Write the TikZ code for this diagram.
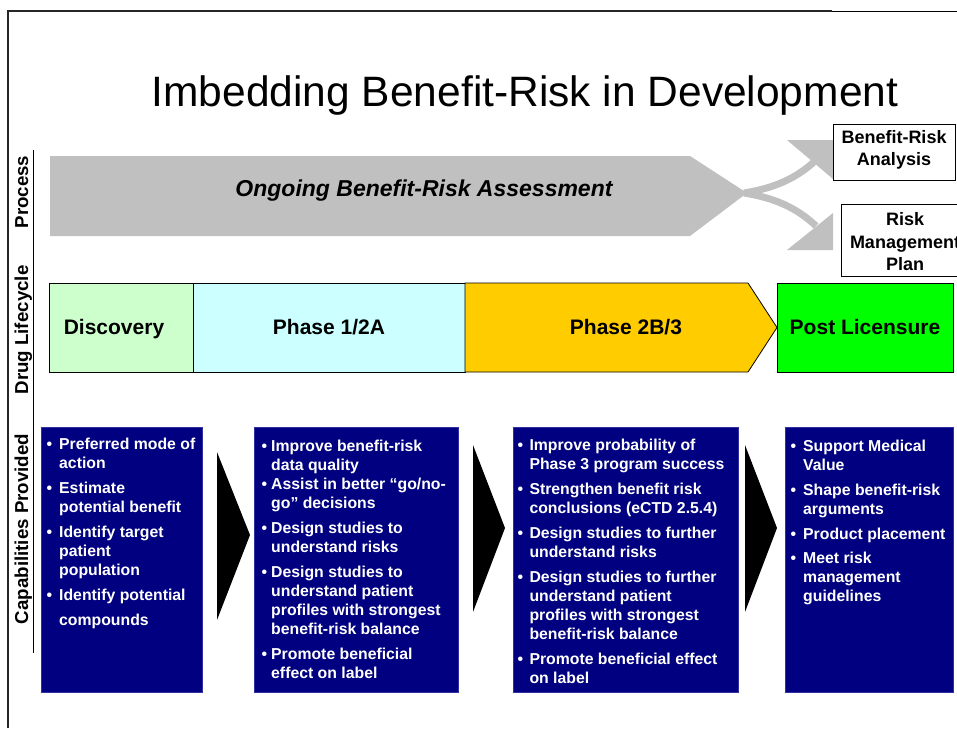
\documentclass[tikz,border=0pt]{standalone}
\usepackage{fontspec}
\setmainfont{Liberation Sans}
\definecolor{discov}{HTML}{CCFFCC}
\definecolor{phaseone}{HTML}{CCFFFF}
\definecolor{phasetwo}{HTML}{FFCC00}
\definecolor{postlic}{HTML}{00FF00}
\definecolor{capnavy}{HTML}{000080}
\definecolor{capedge}{HTML}{3030A0}
\definecolor{procgray}{HTML}{C0C0C0}
\newlength\bind
\newcommand{\bl}{\makebox[\bind][l]{•}}
\newcommand{\ind}{\hspace*{\bind}}
\begin{document}
\begin{tikzpicture}[x=1pt,y=-1pt,
  sidelab/.style={font=\fontsize{18.7}{20}\selectfont\bfseries, rotate=90, anchor=base, inner sep=0},
  phasebox/.style={draw=black, line width=0.8pt, anchor=north west, inner sep=0, minimum height=89pt},
  phasetxt/.style={font=\fontsize{21}{24}\selectfont\bfseries, anchor=base, inner sep=0},
  capbox/.style={fill=capnavy, draw=capedge, line width=0.8pt, anchor=north west, inner sep=0, minimum height=265pt},
  captxt/.style={text=white, font=\fontsize{15.8}{19}\selectfont\bfseries, align=left, anchor=north west, inner sep=0},
  chevron/.style={fill=black},
  outbox/.style={draw=black, fill=white, line width=0.8pt, anchor=north west, inner sep=0},
  outtxt/.style={font=\fontsize{18}{22.5}\selectfont\bfseries, align=center, inner sep=0},
  procband/.style={draw=procgray, line width=7pt}
]
\useasboundingbox (0,0) rectangle (957,728);
\clip (0,0) rectangle (957,728);

% frame
\draw[line width=2pt, black!85] (8,728) -- (8,11) -- (832,11);
\draw[line width=1pt] (832,11.5) -- (957,11.5);

% title
\node[font=\fontsize{42.5}{48}\selectfont, anchor=base, inner sep=0] (title) at (525,106) {Imbedding Benefit-Risk in Development};

% side labels
\draw[line width=0.8pt] (33,150) -- (33,653);
\node[sidelab] (lproc) at (28,192) {Process};
\node[sidelab] (llife) at (28,330) {Drug Lifecycle};
\node[sidelab] (lcap) at (28,529) {Capabilities Provided};

% process arrow
\fill[procgray] (50,156) -- (690,156) -- (747,193) -- (690,236) -- (50,236) -- cycle;
\coordinate (tip) at (744,193);
\coordinate (upend) at (816,160);
\coordinate (lowend) at (816,226);
\draw[procband] (tip) .. controls (775,188) and (797,178) .. (upend);
\draw[procband] (tip) .. controls (775,198) and (797,208) .. (lowend);
\fill[procgray] (787,140) -- (833,140) -- (833,179) -- cycle;
\fill[procgray] (787,250) -- (833,250) -- (833,213) -- cycle;
\node[font=\fontsize{23}{26}\selectfont\bfseries\itshape, anchor=base, inner sep=0] (ongoing) at (424,196) {Ongoing Benefit-Risk Assessment};

% outcome boxes
\node[outbox, minimum width=122pt, minimum height=56pt] (bra) at (833,124) {};
\node[outtxt] (bratxt) at (894,150) {Benefit-Risk\\Analysis};
\node[outbox, minimum width=128pt, minimum height=72pt] (rmp) at (841,204) {};
\node[outtxt] (rmptxt) at (905,242) {Risk\\Management\\Plan};

% lifecycle
\node[phasebox, fill=discov, minimum width=144pt] (disc) at (49,283) {};
\node[phasetxt] (disctxt) at (114,334) {Discovery};
\node[phasebox, fill=phaseone, minimum width=272pt] (ph1) at (193,283) {};
\node[phasetxt] (ph1txt) at (329,334) {Phase 1/2A};
\filldraw[fill=phasetwo, draw=black, line width=0.8pt] (465,283) -- (748,283) -- (777,327.5) -- (748,372) -- (465,372) -- cycle;
\node[phasetxt] (ph2txt) at (626,334) {Phase 2B/3};
\node[phasebox, fill=postlic, minimum width=176pt] (post) at (777,283) {};
\node[phasetxt] (posttxt) at (865,334) {Post Licensure};

% capability boxes
\node[capbox, minimum width=161pt] (cap1) at (41,427) {};
\node[capbox, minimum width=204pt] (cap2) at (254,427) {};
\node[capbox, minimum width=225pt] (cap3) at (513,427) {};
\node[capbox, minimum width=168pt] (cap4) at (785,427) {};

% chevrons
\fill[chevron] (217,452) -- (250,535) -- (217,620) -- cycle;
\fill[chevron] (473,445) -- (505,528) -- (473,612) -- cycle;
\fill[chevron] (745,445) -- (777,528) -- (745,612) -- cycle;

% capability texts
\setlength{\bind}{12.7pt}
\node[captxt] (cap1txt) at (46.3,438) {\bl Preferred mode of\\ \ind action\\[6pt] \bl Estimate\\ \ind potential benefit\\[6pt] \bl Identify target\\ \ind patient\\ \ind population\\[6pt] \bl Identify potential\\[6pt] \ind compounds};
\setlength{\bind}{9.5pt}
\node[captxt] (cap2txt) at (261.5,439.5) {\bl Improve benefit-risk\\ \ind data quality\\ \bl Assist in better “go/no-\\ \ind go” decisions\\[6pt] \bl Design studies to\\ \ind understand risks\\[6pt] \bl Design studies to\\ \ind understand patient\\ \ind profiles with strongest\\ \ind benefit-risk balance\\[6pt] \bl Promote beneficial\\ \ind effect on label};
\setlength{\bind}{12pt}
\node[captxt] (cap3txt) at (517.3,439) {\bl Improve probability of\\ \ind Phase 3 program success\\[6pt] \bl Strengthen benefit risk\\ \ind conclusions (eCTD 2.5.4)\\[6pt] \bl Design studies to further\\ \ind understand risks\\[6pt] \bl Design studies to further\\ \ind understand patient\\ \ind profiles with strongest\\ \ind benefit-risk balance\\[6pt] \bl Promote beneficial effect\\ \ind on label};
\setlength{\bind}{12.7pt}
\node[captxt] (cap4txt) at (790.3,439.5) {\bl Support Medical\\ \ind Value\\[6pt] \bl Shape benefit-risk\\ \ind arguments\\[6pt] \bl Product placement\\[5pt] \bl Meet risk\\ \ind management\\ \ind guidelines};
\end{tikzpicture}
\end{document}
